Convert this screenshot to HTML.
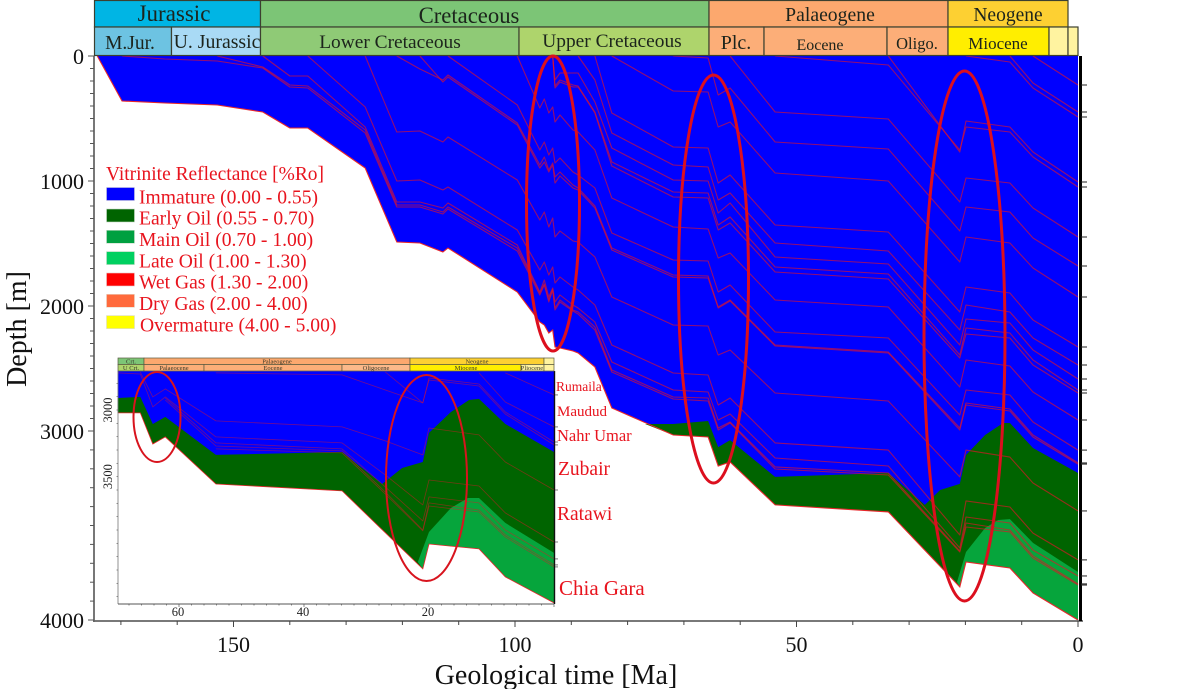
<!DOCTYPE html>
<html lang="en">
<head>
<meta charset="utf-8">
<title>Burial history with vitrinite reflectance</title>
<style>
html,body{margin:0;padding:0;background:#fff;}
svg{display:block;font-family:"Liberation Serif",serif;}
</style>
</head>
<body>
<svg id="chart" xmlns="http://www.w3.org/2000/svg" width="1200" height="689" viewBox="0 0 1200 689">
  <rect x="0" y="0" width="1200" height="689" fill="#ffffff"/>
  <g id="main-plot"></g>
  <g id="main-axes"></g>

  <g stroke="#3c4030" stroke-width="1.2" font-size="19" text-anchor="middle" fill="#1c241c">
    <rect x="94.5" y="0.5" width="166" height="26.5" fill="#00b5e4"/>
    <rect x="260.5" y="0.5" width="448.5" height="26.5" fill="#7cc576"/>
    <rect x="709" y="0.5" width="239" height="26.5" fill="#fca86e"/>
    <rect x="948" y="0.5" width="120" height="26.5" fill="#fdd032"/>
    <rect x="94.5" y="27" width="77" height="28.5" fill="#6dc3e2"/>
    <rect x="171.5" y="27" width="89" height="28.5" fill="#a9daf5"/>
    <rect x="260.5" y="27" width="258.5" height="28.5" fill="#8fca76"/>
    <rect x="519" y="27" width="190" height="28.5" fill="#aed46c"/>
    <rect x="709" y="27" width="55" height="28.5" fill="#fcae78"/>
    <rect x="764" y="27" width="123" height="28.5" fill="#fcae78"/>
    <rect x="887" y="27" width="61" height="28.5" fill="#fcae78"/>
    <rect x="948" y="27" width="101" height="28.5" fill="#ffee00"/>
    <rect x="1049" y="27" width="19" height="28.5" fill="#fff3a0"/>
    <rect x="1068" y="27" width="10" height="28.5" fill="#fff3a0"/>
    <g stroke="none">
      <text x="174" y="21" font-size="23">Jurassic</text>
      <text x="469" y="23" font-size="22.7">Cretaceous</text>
      <text x="830" y="21" font-size="19.7">Palaeogene</text>
      <text x="1008" y="21" font-size="19.5">Neogene</text>
      <text x="130" y="49" font-size="19.5">M.Jur.</text>
      <text x="217" y="48" font-size="19.8">U. Jurassic</text>
      <text x="390" y="48" font-size="19.4">Lower Cretaceous</text>
      <text x="612" y="47" font-size="19.4">Upper Cretaceous</text>
      <text x="736" y="49" font-size="20">Plc.</text>
      <text x="820" y="50" font-size="16">Eocene</text>
      <text x="917" y="49" font-size="16.5">Oligo.</text>
      <text x="998" y="49" font-size="17">Miocene</text>
    </g>
  </g>

  <g font-size="19.6" fill="#e8141e">
    <text x="106" y="180" textLength="218" lengthAdjust="spacingAndGlyphs">Vitrinite Reflectance [%Ro]</text>
    <rect x="106.5" y="187.5" width="28" height="13" fill="#0000ff" stroke="#c8c8dc" stroke-width=".6"/>
    <text x="139" y="203.5">Immature (0.00 - 0.55)</text>
    <rect x="106.5" y="209" width="28" height="13" fill="#006400" stroke="#c8dcc8" stroke-width=".6"/>
    <text x="139" y="224.5">Early Oil (0.55 - 0.70)</text>
    <rect x="106.5" y="230.3" width="28" height="13" fill="#00a040" stroke="#c8dcc8" stroke-width=".6"/>
    <text x="139" y="246">Main Oil (0.70 - 1.00)</text>
    <rect x="106.5" y="251.6" width="28" height="13" fill="#00d060" stroke="#c8dcc8" stroke-width=".6"/>
    <text x="139" y="267.5">Late Oil (1.00 - 1.30)</text>
    <rect x="106.5" y="273" width="28" height="13" fill="#ff0000" stroke="#e8c8c8" stroke-width=".6"/>
    <text x="139" y="288.5">Wet Gas (1.30 - 2.00)</text>
    <rect x="106.5" y="294.3" width="28" height="13" fill="#ff6a3c" stroke="#e8d8c8" stroke-width=".6"/>
    <text x="139" y="310">Dry Gas (2.00 - 4.00)</text>
    <rect x="106.5" y="315.6" width="28" height="13" fill="#ffff00" stroke="#dcdcc8" stroke-width=".6"/>
    <text x="140" y="331.5">Overmature (4.00 - 5.00)</text>
  </g>

  <g>
    <rect x="118" y="358" width="436" height="246" fill="#ffffff"/>
    <g id="inset-plot"></g>
    <g id="inset-axes"></g>
    <g stroke="#5a5a40" stroke-width=".7" font-size="6.5" text-anchor="middle" fill="#3a3a2a">
      <rect x="118" y="358" width="26" height="6.5" fill="#7cc576"/>
      <rect x="144" y="358" width="266" height="6.5" fill="#fca86e"/>
      <rect x="410" y="358" width="134" height="6.5" fill="#fdd032"/>
      <rect x="544" y="358" width="10" height="6.5" fill="#fff3a0"/>
      <rect x="118" y="364.5" width="26" height="6.5" fill="#aed46c"/>
      <rect x="144" y="364.5" width="60" height="6.5" fill="#fcae78"/>
      <rect x="204" y="364.5" width="138" height="6.5" fill="#fcae78"/>
      <rect x="342" y="364.5" width="68" height="6.5" fill="#fcb98a"/>
      <rect x="410" y="364.5" width="111" height="6.5" fill="#ffee00"/>
      <rect x="521" y="364.5" width="23" height="6.5" fill="#fff3a0"/>
      <rect x="544" y="364.5" width="10" height="6.5" fill="#fff3a0"/>
      <g stroke="none">
        <text x="131" y="363.5">Crt.</text>
        <text x="277" y="363.5">Palaeogene</text>
        <text x="477" y="363.5">Neogene</text>
        <text x="131" y="370">U Crt.</text>
        <text x="174" y="370">Palaeocene</text>
        <text x="273" y="370">Eocene</text>
        <text x="376" y="370">Oligocene</text>
        <text x="466" y="370">Miocene</text>
        <text x="532" y="370">Pliocene</text>
      </g>
    </g>
    <ellipse cx="157" cy="417" rx="23.5" ry="45" fill="none" stroke="#d8141e" stroke-width="2"/>
    <ellipse cx="426.5" cy="478" rx="40.5" ry="103" fill="none" stroke="#d8141e" stroke-width="2"/>
  </g>

  <ellipse cx="553" cy="203.5" rx="26.5" ry="147.5" fill="none" stroke="#dc0f1e" stroke-width="3"/>
  <ellipse cx="713.5" cy="279" rx="35" ry="204" fill="none" stroke="#dc0f1e" stroke-width="3"/>
  <ellipse cx="964.5" cy="336" rx="40.5" ry="265" fill="none" stroke="#dc0f1e" stroke-width="3"/>

  <g fill="#e8141e">
    <text x="556" y="391" font-size="13.5">Rumaila</text>
    <text x="557" y="416" font-size="15">Maudud</text>
    <text x="557" y="441" font-size="16.5">Nahr Umar</text>
    <text x="558" y="475" font-size="19.5">Zubair</text>
    <text x="557" y="520" font-size="19.5">Ratawi</text>
    <text x="559" y="595" font-size="21">Chia Gara</text>
  </g>

  <text transform="translate(26,329) rotate(-90)" font-size="28" text-anchor="middle" fill="#111">Depth [m]</text>
  <text x="556" y="684" font-size="28" text-anchor="middle" fill="#111">Geological time [Ma]</text>
</svg>
<script>
// Main chart: ages of the burial-curve knots (Ma)
const ages = [174.2,169.8,162.2,152.9,144.8,140,136.8,126.6,121,116.9,112.8,111.9,99.6,95.6,94.8,94,93.3,92.9,92,89.7,88.8,85.8,82.8,71.9,65.7,63.9,61.8,53.8,33.7,21,19.9,12.1,8,0];
// Deepest horizon (sediment base), depth in metres
const baseDepth = [0,360,376,392,448,576,576,896,1488,1496,1568,1536,1888,2128,2152,2216,2192,2328,2336,2360,2376,2488,2816,3021,3032,3185,3164,3391,3428,3825,3693,3725,3857,4000];
// Horizons: values align with the END of the ages array
const horizonA = [0,232];
const horizonB = [0,216,448];
const horizonC = [0,48,256,488];
const horizonD = [0,768,520,568,768,1008];
const horizonE = [0,72,752,568,608,808,1048];
const horizonF = [0,448,504,1168,976,1016,1216,1448];
const horizonG = [0,16,312,256,688,744,1400,1208,1248,1456,1680];
const horizonH = [0,280,288,568,528,936,1000,1648,1448,1496,1696,1928];
const horizonI = [0,456,728,736,1016,952,1352,1408,2048,1848,1896,2112,2328];
const horizonJ = [0,192,616,872,888,1152,1096,1496,1560,2192,1992,2048,2256,2472];
const horizonK = [0,192,136,136,136,368,736,992,1000,1256,1176,1608,1664,2312,2104,2136,2352,2584];
const horizonL = [0,240,192,232,240,448,848,1088,1096,1352,1288,1688,1744,2392,2176,2216,2432,2672];
const horizonM = [0,256,208,248,248,456,880,1128,1136,1392,1336,1728,1784,2416,2224,2256,2472,2696];
const horizonN = [0,416,344,456,408,528,472,592,608,752,1136,1368,1384,1616,1576,1952,2008,2648,2432,2480,2688,2912];
const horizonO = [0,392,752,688,792,736,856,816,928,952,1056,1416,1632,1640,1888,1832,2208,2256,2872,2672,2712,2928,3101];
const horizonP = [0,208,168,552,896,848,928,872,1016,960,1056,1072,1216,1552,1768,1776,2016,1960,2320,2376,2992,2792,2840,3032,3175];
const horizonQ = [0,104,192,152,536,872,808,912,856,968,928,1032,1056,1200,1536,1752,1760,2008,1952,2312,2368,2976,2776,2824,3021,3169];
const horizonR = [0,608,600,688,648,992,1312,1248,1368,1296,1448,1400,1480,1488,1608,1928,2152,2160,2392,2352,2696,2760,3243,3101,3138,3275,3423];
const horizonS = [0,408,1000,992,1072,1048,1392,1712,1648,1752,1688,1816,1768,1848,1872,1992,2312,2536,2552,2792,2736,3063,3101,3550,3370,3402,3540,3682];
const horizonT = [0,160,160,568,1168,1168,1216,1176,1512,1888,1792,1928,1856,1968,1912,1992,2016,2128,2448,2672,2688,2912,2864,3143,3185,3619,3455,3487,3630,3767];
const horizonU = [0,88,232,240,592,1192,1192,1248,1208,1536,1896,1824,1952,1864,2016,1952,2032,2048,2168,2512,2728,2736,2976,2928,3190,3222,3635,3487,3524,3661,3809];
const horizonV = [0,24,40,96,248,256,616,1208,1208,1264,1224,1560,1912,1832,1968,1872,2032,1968,2040,2064,2192,2528,2744,2760,2992,2936,3201,3233,3640,3508,3534,3672,3815];
const horizons = [horizonA,horizonB,horizonC,horizonD,horizonE,horizonF,horizonG,horizonH,horizonI,horizonJ,horizonK,horizonL,horizonM,horizonN,horizonO,horizonP,horizonQ,horizonR,horizonS,horizonT,horizonU,horizonV];
// Maturity boundaries
const earlyOilAges = [76.9,71.9,65.7,63.9,61.8,53.8,33.7,27.2,24.5,21,19.9,16.5,13.3,12.1,8,0];
const earlyOilTop = [2944,2944,2920,3085,3048,3243,3222,3391,3312,3280,3127,3021,2936,2936,3090,3222];
const mainOilAges = [21.5,19.9,16.5,14.2,12.1,8,0];
const mainOilTop = [3799,3640,3513,3471,3466,3592,3746];
// Main axes labels
const depthTicks = [0,1000,2000,3000,4000];
const ageTicks = [150,100,50,0];

// Inset chart
const insetAges = [69.8,66.2,64.2,62.2,54.1,33.9,27,21,20,12,7.8,0];
const insetBase = [3022,3022,3255,3202,3555,3607,3920,4192,4005,4042,4252,4447];
const insetEarlyAges = [69.8,66.2,64.2,62.2,54.1,33.9,27.5,24.3,21,20,16.5,13.6,12,7.8,0];
const insetEarlyTop = [2910,2902,3105,3052,3337,3315,3555,3435,3390,3172,3015,2925,2917,3105,3315];
const insetMainAges = [21.8,20,16.5,13.8,12,7.8,0];
const insetMainTop = [4140,3915,3735,3660,3660,3847,4072];
const insetLineA = [2715,2902,2842,3082,3127,3232,3337,3135,3187,3390,3600];
const insetLineB = [2722,2730,2977,2902,3202,3247,3487,3712,3525,3570,3772,3990];
const insetLineC = [2910,3247,3292,3577,3832,3652,3697,3900,4117];
const insetLineD = [2925,3270,3307,3615,3900,3697,3750,3937,4162];
const insetLineE = [3292,3322,3630,3907,3720,3765,3952,4177];
const insetLineF = [2722,2737,2850,2947,2760,2805,3015,3240];
const insetLineG = [2715,2947,2775,2820,3030,3262];
const insetLineH = [2722,2940,3127];
const insetLineI = [2722,2887];
const insetLines = [insetLineA,insetLineB,insetLineC,insetLineD,insetLineE,insetLineF,insetLineG,insetLineH,insetLineI];
const insetAgeTicks = [60,40,20];
const insetDepthTicks = [3000,3500];

const NS = 'http://www.w3.org/2000/svg';
function xMain(ma){ return 1078 - 5.63 * ma; }
function yMain(d){ return d <= 3000 ? 56 + d * 0.125 : 431 + (d - 3000) * 0.189; }
function xInset(ma){ return 554 - 6.25 * ma; }
function yInset(d){ return 410 + (d - 3000) * 0.13333; }

function make(tag, parent, attrs){
  const el = document.createElementNS(NS, tag);
  for (const k in attrs) el.setAttribute(k, attrs[k]);
  parent.appendChild(el);
  return el;
}
function pts(t, d, fx, fy){
  return t.map(function(a, i){ return fx(a).toFixed(1) + ',' + fy(d[i]).toFixed(1); });
}
function tailAges(t, arr){ return t.slice(t.length - arr.length); }

function drawPlot(group, t, base, eAges, eTop, mAges, mTop, lines, fx, fy, topDepth, lineW, lineColor){
  // immature fill spans from the surface down to the base horizon
  const blue = [fx(t[0]).toFixed(1) + ',' + fy(topDepth).toFixed(1), fx(0).toFixed(1) + ',' + fy(topDepth).toFixed(1)]
    .concat(pts(t, base, fx, fy).reverse());
  const blueEl = make('polygon', group, {points: blue.join(' '), fill: '#0000ff'});
  
  

  const eBase = t.map(function(a, i){ return [a, base[i]]; }).filter(function(p){ return p[0] <= eAges[0]; });
  const green = pts(eAges, eTop, fx, fy).concat(eBase.reverse().map(function(p){ return fx(p[0]).toFixed(1) + ',' + fy(p[1]).toFixed(1); }));
  const greenEl = make('polygon', group, {points: green.join(' '), fill: '#006400'});
  
  

  const mBase = t.map(function(a, i){ return [a, base[i]]; }).filter(function(p){ return p[0] <= mAges[0]; });
  const main = pts(mAges, mTop, fx, fy).concat(mBase.reverse().map(function(p){ return fx(p[0]).toFixed(1) + ',' + fy(p[1]).toFixed(1); }));
  const mainEl = make('polygon', group, {points: main.join(' '), fill: '#06a53c'});
  
  

  lines.forEach(function(arr){
    const line = make('polyline', group, {points: pts(tailAges(t, arr), arr, fx, fy).join(' '), fill: 'none', stroke: lineColor, 'stroke-width': lineW, 'stroke-linejoin': 'round'});
    
    
  });
  const baseLine = make('polyline', group, {points: pts(t, base, fx, fy).join(' '), fill: 'none', stroke: '#e8262a', 'stroke-width': lineW});
  
  
}

const mainPlot = document.getElementById('main-plot');
const mainAxes = document.getElementById('main-axes');
drawPlot(mainPlot, ages, baseDepth, earlyOilAges, earlyOilTop, mainOilAges, mainOilTop, horizons, xMain, yMain, 0, 1.1, 'rgba(225,20,40,.66)');

const yAxis = make('line', mainAxes, {x1: 94, y1: 56, x2: 94, y2: 622, stroke: '#555', 'stroke-width': 1.6});


const xAxis = make('line', mainAxes, {x1: 93, y1: 621, x2: 1083, y2: 621, stroke: '#666', 'stroke-width': 1.8});


const rightAxis = make('line', mainAxes, {x1: 1080.5, y1: 56, x2: 1080.5, y2: 621, stroke: '#000', 'stroke-width': 3});



for (let d = 0; d <= 4000; d += 100) {
  const major = d % 1000 === 0;
  const tick = make('line', mainAxes, {x1: major ? 88 : 90, y1: yMain(d), x2: 94, y2: yMain(d), stroke: '#555', 'stroke-width': 1});
  
  
}
depthTicks.forEach(function(d){
  const label = make('text', mainAxes, {x: 84, y: yMain(d) + 8, 'font-size': 22, 'text-anchor': 'end', fill: '#111'});
  
  
  label.textContent = d;
});
for (let a = 0; a <= 170; a += 10) {
  const major = a % 50 === 0;
  const tick = make('line', mainAxes, {x1: xMain(a), y1: 621, x2: xMain(a), y2: major ? 627 : 625, stroke: '#444', 'stroke-width': 1});
  
  
}
ageTicks.forEach(function(a){
  const label = make('text', mainAxes, {x: xMain(a), y: 652, 'font-size': 22, 'text-anchor': 'middle', fill: '#111'});
  
  
  label.textContent = a;
});
horizons.forEach(function(arr){
  const end = yMain(arr[arr.length - 1]);
  const tick = make('line', mainAxes, {x1: 1081, y1: end, x2: 1087, y2: end, stroke: '#222', 'stroke-width': 1});
  
  
});

const insetPlot = document.getElementById('inset-plot');
const insetAxes = document.getElementById('inset-axes');
drawPlot(insetPlot, insetAges, insetBase, insetEarlyAges, insetEarlyTop, insetMainAges, insetMainTop, insetLines, xInset, yInset, 2708, 0.8, 'rgba(225,20,40,.5)');

const insetLeft = make('line', insetAxes, {x1: 118, y1: 371, x2: 118, y2: 604, stroke: '#777', 'stroke-width': 0.8});


const insetBottom = make('line', insetAxes, {x1: 118, y1: 604, x2: 554, y2: 604, stroke: '#555', 'stroke-width': 0.9});


const insetRight = make('line', insetAxes, {x1: 554.5, y1: 371, x2: 554.5, y2: 604, stroke: '#111', 'stroke-width': 1.4});


for (let a = 0; a <= 68; a += 2) {
  const tick = make('line', insetAxes, {x1: xInset(a), y1: 604, x2: xInset(a), y2: a % 20 === 0 ? 607 : 605.5, stroke: '#555', 'stroke-width': 0.7});
  
  
}
for (let d = 2800; d <= 4400; d += 100) {
  const tick = make('line', insetAxes, {x1: 116.5, y1: yInset(d), x2: 118, y2: yInset(d), stroke: '#666', 'stroke-width': 0.7});
  
  
}
insetAgeTicks.forEach(function(a){
  const label = make('text', insetAxes, {x: xInset(a) - 1, y: 616, 'font-size': 12.5, 'text-anchor': 'middle', fill: '#222'});
  
  
  label.textContent = a;
});
insetDepthTicks.forEach(function(d){
  const ty = yInset(d);
  const label = make('text', insetAxes, {transform: 'translate(112,' + ty + ') rotate(-90)', 'font-size': 12.5, 'text-anchor': 'middle', fill: '#222'});
  
  
  label.textContent = d;
});
insetLines.forEach(function(arr){
  const end = yInset(arr[arr.length - 1]);
  const tick = make('line', insetAxes, {x1: 555, y1: end, x2: 558, y2: end, stroke: '#444', 'stroke-width': 0.7});
  
  
});
</script>
</body>
</html>
